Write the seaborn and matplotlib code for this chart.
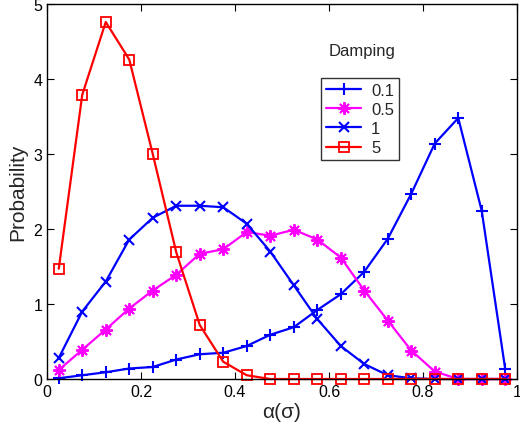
import matplotlib
matplotlib.use('Agg')
import matplotlib.pyplot as plt
import numpy as np
import pandas as pd
import seaborn as sns

# bin centres of alpha(sigma)
alpha = [0.025, 0.075, 0.125, 0.175, 0.225, 0.275, 0.325, 0.375, 0.425, 0.475,
         0.525, 0.575, 0.625, 0.675, 0.725, 0.775, 0.825, 0.875, 0.925, 0.975]

p_01 = [0.01, 0.05, 0.09, 0.14, 0.16, 0.26, 0.33, 0.35, 0.44, 0.59,
        0.69, 0.92, 1.13, 1.43, 1.87, 2.47, 3.14, 3.48, 2.24, 0.13]
p_05 = [0.12, 0.39, 0.66, 0.94, 1.18, 1.39, 1.67, 1.73, 1.96, 1.91,
        1.99, 1.86, 1.62, 1.18, 0.78, 0.38, 0.10, 0.0, 0.0, 0.0]
p_1 = [0.28, 0.90, 1.30, 1.86, 2.15, 2.31, 2.31, 2.29, 2.07, 1.70,
       1.25, 0.80, 0.44, 0.20, 0.05, 0.01, 0.0, 0.0, 0.0, 0.0]
p_5 = [1.47, 3.79, 4.76, 4.26, 3.0, 1.69, 0.72, 0.23, 0.05, 0.0,
       0.0, 0.0, 0.0, 0.0, 0.0, 0.0, 0.0, 0.0, 0.0, 0.0]

damping = ['0.1', '0.5', '1', '5']

sns.set_style('ticks')
plt.rcParams['font.family'] = ['Liberation Sans', 'DejaVu Sans']

fig = plt.figure(figsize=(5.2, 4.27), dpi=100)
ax = fig.add_axes([47 / 520, 47 / 427, 470 / 520, 375 / 427])

# matlab-like asterisk: 8 spokes
asterisk = (8, 2, 0)
series = [
    (p_01, damping[0], '#0000ff', '+', dict(markersize=9, markeredgewidth=1.5)),
    (p_05, damping[1], '#ff00ff', asterisk, dict(markersize=9, markeredgewidth=1.4)),
    (p_1, damping[2], '#0000ff', 'x', dict(markersize=7, markeredgewidth=1.5)),
    (p_5, damping[3], '#ff0000', 's', dict(markersize=7, markeredgewidth=1.3,
                                          markerfacecolor='none')),
]
for vals, lab, col, mk, kw in series:
    df = pd.DataFrame({'alpha': alpha, 'p': vals})
    sns.lineplot(data=df, x='alpha', y='p', ax=ax, color=col, marker=mk,
                 markeredgecolor=col, linewidth=1.6, label=lab, clip_on=False,
                 **kw)

ax.set_xlim(0, 1)
ax.set_ylim(0, 5)
ax.set_xticks(np.arange(0, 1.01, 0.2))
ax.set_xticklabels(['0', '0.2', '0.4', '0.6', '0.8', '1'])
ax.set_yticks(range(6))
ax.tick_params(direction='in', top=True, right=True, labelsize=11.5,
               length=5, width=0.8, colors='black')
for s in ax.spines.values():
    s.set_visible(True)
    s.set_linewidth(1.0)
    s.set_color('black')
ax.set_xlabel('α(σ)', fontsize=15, labelpad=2)
ax.set_ylabel('Probability', fontsize=15, labelpad=4)

leg = ax.legend(loc='upper left', bbox_to_anchor=(0.583, 0.803), fontsize=12,
                frameon=True, fancybox=False, edgecolor='black',
                handlelength=2.1, borderpad=0.3, labelspacing=0.25,
                handletextpad=0.6, borderaxespad=0)
leg.get_frame().set_linewidth(1.0)
ax.text(0.6, 0.877, 'Damping', transform=ax.transAxes, fontsize=12,
        va='center', ha='left')

fig.savefig('out.png', dpi=100)
